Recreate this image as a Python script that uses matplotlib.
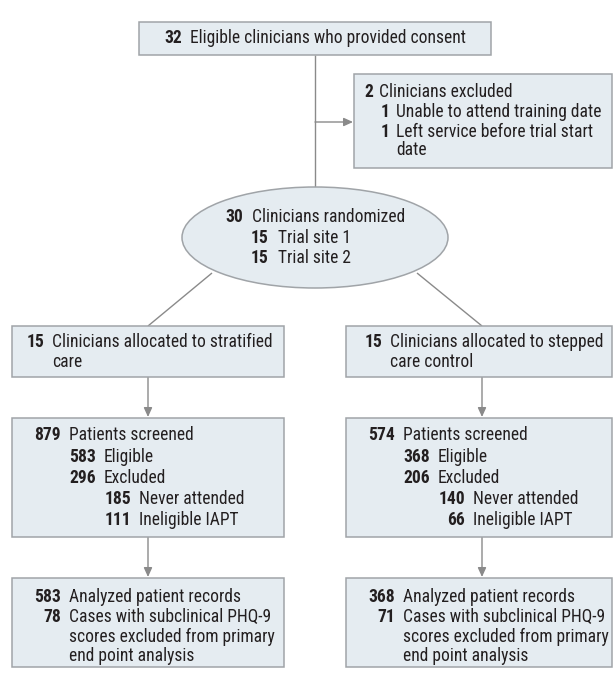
import matplotlib
matplotlib.use("Agg")
import matplotlib.pyplot as plt
from matplotlib.patches import Rectangle, Ellipse
from matplotlib import font_manager

names = {f.name for f in font_manager.fontManager.ttflist}
FAM = ["Roboto", "DejaVu Sans"]
for cand in ["Roboto Condensed", "Liberation Sans Narrow", "Open Sans Condensed", "Lato"]:
    if cand in names:
        FAM = [cand, "DejaVu Sans"]
        break

# ---- data (text of each node) ----
consent_n = ["32"]
consent_lbl = ["Eligible clinicians who provided consent"]
excl_n = ["2", "1", "1", ""]
excl_lbl = ["Clinicians excluded", "Unable to attend training date", "Left service before trial start", "date"]
rand_n = ["30", "15", "15"]
rand_lbl = ["Clinicians randomized", "Trial site 1", "Trial site 2"]
alloc_n = ["15", "15"]
alloc_lbl = [["Clinicians allocated to stratified", "care"],
             ["Clinicians allocated to stepped", "care control"]]
screen_n = [["879", "583", "296", "185", "111"], ["574", "368", "206", "140", "66"]]
screen_lbl = ["Patients screened", "Eligible", "Excluded", "Never attended", "Ineligible IAPT"]
anal_n = [["583", "78", "", ""], ["368", "71", "", ""]]
anal_lbl = ["Analyzed patient records", "Cases with subclinical PHQ-9",
            "scores excluded from primary", "end point analysis"]

FILL = "#e5ecf1"
EDGE = "#a0a4a8"
LINE = "#8a8a8a"
TXT = "#231f20"

fig = plt.figure(figsize=(6.14, 6.73), dpi=100)
ax = fig.add_axes([0, 0, 1, 1])
ax.set_xlim(0, 614)
ax.set_ylim(673, 0)
ax.axis("off")

# fit the font size so that label widths match the reference
renderer = fig.canvas.get_renderer()
samples = [(consent_lbl[0], 275), (anal_lbl[2], 198), (excl_lbl[1], 212), (alloc_lbl[0][0], 217)]
tot_ref = sum(w for _, w in samples)
tot = 0
for s, _ in samples:
    t = ax.text(0, 0, s, fontsize=10, family=FAM)
    tot += t.get_window_extent(renderer).width
    t.remove()
FS = 10 * tot_ref / tot

def box(x0, y0, x1, y1):
    ax.add_patch(Rectangle((x0, y0), x1 - x0, y1 - y0, facecolor=FILL, edgecolor=EDGE, lw=1.1, zorder=2))

def line(x0, y0, x1, y1):
    ax.plot([x0, x1], [y0, y1], color=LINE, lw=1.0, zorder=1, solid_capstyle="butt")

def arrow(x0, y0, x1, y1):
    ax.annotate("", xy=(x1, y1), xytext=(x0, y0),
                arrowprops=dict(arrowstyle="-|>,head_length=0.55,head_width=0.25", color=LINE, lw=1.0,
                                shrinkA=0, shrinkB=0), zorder=1)

def item(xnum, y, num, lbl, gap=7):
    if num:
        ax.text(xnum, y, num, ha="right", va="center", fontsize=FS, fontweight="bold", color=TXT, family=FAM, zorder=3)
    ax.text(xnum + gap, y, lbl, ha="left", va="center", fontsize=FS, color=TXT, family=FAM, zorder=3)

# top box
box(139, 22, 491, 55)
item(182, 38, consent_n[0], consent_lbl[0], gap=8)
line(315, 55, 315, 187)
arrow(315, 122, 353, 122)

# exclusion box
box(354, 74, 612, 168)
ex_y = [92, 112, 132, 150]
ex_x = [373, 390, 390, 390]
for n, l, y, xx in zip(excl_n, excl_lbl, ex_y, ex_x):
    item(xx, y, n, l, gap=6)

# ellipse
ax.add_patch(Ellipse((315, 237.5), 266, 101, facecolor=FILL, edgecolor=EDGE, lw=1.1, zorder=2))
r_y = [217, 238, 258]
r_x = [243, 269, 269]
for n, l, y, xx in zip(rand_n, rand_lbl, r_y, r_x):
    item(xx, y, n, l, gap=9)

# diagonals
line(212, 273, 148, 326)
line(417, 273, 482, 326)

cols = [(12, 284, 148, 0), (346, 612, 482, 1)]
for x0, x1, xc, i in cols:
    # allocation
    box(x0, 326, x1, 377)
    xn = 44 if i == 0 else 382
    item(xn, 342, alloc_n[i], alloc_lbl[i][0], gap=8)
    item(xn, 362, "", alloc_lbl[i][1], gap=8)
    arrow(xc, 377, xc, 417)
    # screened
    box(x0, 418, x1, 537)
    base = 61 if i == 0 else 395
    sx = [base, base + 35, base + 35, base + 70, base + 70]
    sy = [435, 457, 478, 499, 520]
    for n, l, y, xx in zip(screen_n[i], screen_lbl, sy, sx):
        item(xx, y, n, l, gap=8)
    arrow(xc, 537, xc, 577)
    # analysed
    box(x0, 578, x1, 667)
    ay = [597, 617, 637, 656]
    for n, l, y in zip(anal_n[i], anal_lbl, ay):
        item(base, y, n, l, gap=8)

fig.savefig("out.png", dpi=100)
